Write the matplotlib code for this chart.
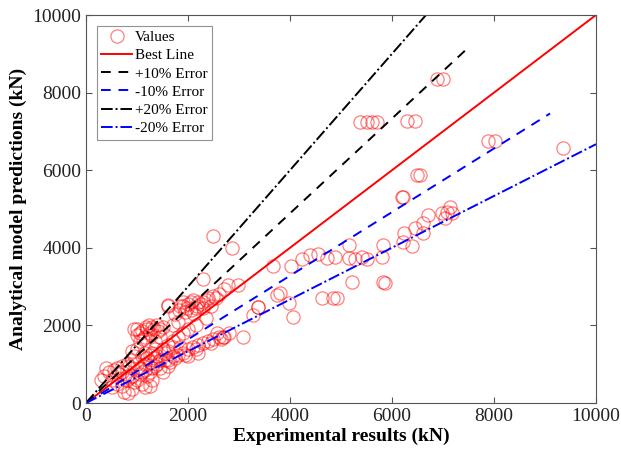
import matplotlib
matplotlib.use("Agg")
import matplotlib.pyplot as plt
import numpy as np

plt.rcParams['font.family'] = ['Liberation Serif', 'DejaVu Serif']

# experimental (x) vs predicted (y), kN
exp_kn = [
    # sparse, larger specimens
    2490, 2860, 2290, 2780, 2980, 3670, 3740, 3370, 3080, 2690, 2570, 1610,
    4020, 4235, 4390, 4550, 4725, 4880, 5160, 5160, 5275, 5410, 5510, 5800,
    5820, 6235, 6390, 6215, 6450, 6610, 6610, 6705, 6980, 7080, 6200, 5215,
    5825, 5860, 3800, 3980, 4060, 4630, 4840, 4920, 3370, 3275,
    6880, 7000, 6295, 6450, 7880, 8020, 9350, 6490, 6550, 6215, 7140, 7175,
    7040, 5370, 5510, 5610, 5705,
    # upper band
    600, 700, 800, 900, 1000, 1100, 1200, 1300, 1400, 1150, 1250, 1350,
    1500, 950, 1050, 1600, 1750, 1850, 1900, 2000, 2100, 2200, 2300, 2400,
    2500, 2600, 2050, 2150, 1950, 2450, 2550, 2700, 1700, 1800,
    1050, 1180, 1280, 1420, 1230, 1330, 1120, 1000, 1450, 1900, 2050, 2250,
    2350, 1980, 2120, 2180, 1820, 2300,
    # middle band
    500, 700, 800, 900, 1000, 1100, 1200, 1300, 1400, 1500, 1600, 1700,
    1800, 1900, 2000, 1250, 1050, 1350, 1450, 1550, 2150, 2350, 650, 1150,
    850, 950, 1150, 1250, 1350, 1600, 1700,
    # lower band
    500, 600, 700, 800, 900, 1000, 1100, 1200, 1300, 1400, 1500, 1600,
    1700, 1800, 1900, 2000, 2100, 2200, 2300, 2400, 2500, 2600, 2700, 2800,
    1100, 1300, 900, 1600, 2200, 2000, 750, 820, 1150, 1250, 350, 450,
    300, 400, 550, 1000, 1450, 1850,
    1050, 1150, 1350, 1550, 1750, 1950, 2150, 2450, 2650, 1250, 1450, 1650,
    850, 950,
]
pred_kn = [
    4300, 3990, 3200, 3040, 3040, 3530, 2780, 2470, 1700, 1700, 1800, 2530,
    3530, 3710, 3810, 3840, 3740, 3760, 4070, 3740, 3710, 3760, 3710, 3760,
    4070, 4380, 4050, 4150, 4510, 4640, 4380, 4850, 4900, 4920, 5310, 3120,
    3120, 3090, 2830, 2580, 2220, 2710, 2710, 2710, 2470, 2270,
    8350, 8350, 7270, 7270, 6750, 6750, 6570, 5880, 5880, 5310, 5050, 4900,
    4770, 7250, 7250, 7250, 7250,
    900, 950, 1000, 1350, 1400, 1850, 1900, 1950, 2000, 1700, 1800, 1600,
    1950, 1900, 1600, 2500, 2300, 2500, 2600, 2550, 2650, 2600, 2450, 2700,
    2750, 2800, 2400, 2450, 2350, 2500, 2700, 2950, 2000, 2100,
    1800, 1950, 1750, 1850, 2000, 1900, 1650, 1750, 1700, 2500, 2600, 2550,
    2650, 2450, 2300, 2500, 2400, 2600,
    600, 800, 700, 1100, 1000, 1200, 1150, 1300, 1200, 1400, 1500, 1600,
    1700, 1800, 1900, 1050, 900, 1400, 1100, 1300, 2000, 2200, 750, 1000,
    950, 1200, 1300, 1250, 1150, 1350, 1450,
    400, 500, 450, 600, 700, 600, 800, 700, 900, 1000, 800, 1100,
    1200, 1250, 1300, 1400, 1450, 1500, 1550, 1600, 1650, 1700, 1700, 1800,
    500, 600, 350, 950, 1300, 1200, 290, 260, 420, 450, 700, 800,
    600, 900, 850, 1900, 1900, 1450,
    750, 850, 950, 1100, 1150, 1250, 1400, 1550, 1650, 800, 900, 1050,
    650, 550,
]

# reference lines: slope and x where each line stops
line_names = ['Best Line', '+10% Error', '-10% Error', '+20% Error', '-20% Error']
line_slopes = [1.0, 1.222, 0.82, 1.5, 0.667]
line_xend = [10000, 7450, 9100, 6667, 10000]
line_colors = ['red', 'black', 'blue', 'black', 'blue']
line_styles = ['-', (0, (5, 4)), (0, (5, 4)), (0, (6, 1.5, 1, 1.5)), (0, (6, 1.5, 1, 1.5))]

fig = plt.figure(figsize=(6.21, 4.62), dpi=100)
ax = fig.add_axes([0.1385, 0.1277, 0.8212, 0.8398])

ax.plot(exp_kn, pred_kn, 'o', mfc='none', mec=(1, 0, 0, 0.5), ms=9.5, mew=0.9,
        label='Values')
for name, k, xe, c, ls in zip(line_names, line_slopes, line_xend, line_colors, line_styles):
    xs = np.array([0, xe])
    ax.plot(xs, k * xs, color=c, ls=ls, lw=1.4, label=name)

ax.set_xlim(0, 10000)
ax.set_ylim(0, 10000)
ax.set_xticks([0, 2000, 4000, 6000, 8000, 10000])
ax.set_yticks([0, 2000, 4000, 6000, 8000, 10000])
ax.tick_params(direction='in', top=True, right=True, labelsize=14, length=4,
               color='#555555', labelcolor='#222222')
for s in ax.spines.values():
    s.set_color('#555555')
    s.set_linewidth(0.8)

ax.set_xlabel('Experimental results (kN)', fontsize=14, fontweight='bold', labelpad=2)
ax.set_ylabel('Analytical model predictions (kN)', fontsize=14, fontweight='bold', labelpad=4)

leg = ax.legend(loc='upper left', fontsize=11, frameon=True, fancybox=False,
                edgecolor='#777777', handlelength=2.0, handletextpad=0.2,
                borderpad=0.3, labelspacing=0.3, borderaxespad=0.7)
leg.get_frame().set_linewidth(0.8)

fig.savefig('out.png', dpi=100, facecolor='white')
